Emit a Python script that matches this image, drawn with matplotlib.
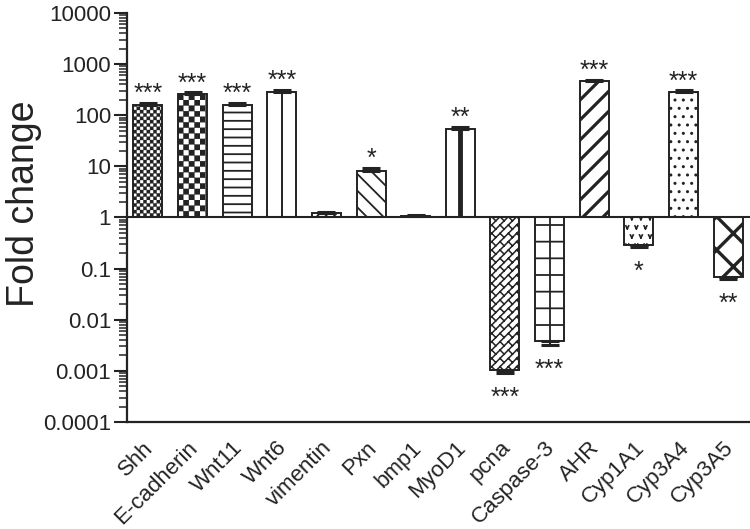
import warnings

import numpy as np
import matplotlib

matplotlib.use("Agg")
import matplotlib.pyplot as plt  # noqa: E402
from matplotlib import hatch as mhatch  # noqa: E402
from matplotlib.path import Path  # noqa: E402
from matplotlib.ticker import FixedLocator, LogLocator, NullFormatter  # noqa: E402
from matplotlib.transforms import ScaledTranslation  # noqa: E402

warnings.filterwarnings("ignore", message="hatch must consist")

GENES = ["Shh", "E-cadherin", "Wnt11", "Wnt6", "vimentin", "Pxn", "bmp1", "MyoD1",
         "pcna", "Caspase-3", "AHR", "Cyp1A1", "Cyp3A4", "Cyp3A5"]
FOLD = [160, 260, 160, 285, 1.2, 8.3, 1.07, 54, 0.00105, 0.0038, 470, 0.29, 285, 0.068]
ERR = [12, 20, 12, 25, 0.08, 0.9, 0.06, 6, 0.00015, 0.0006, 30, 0.03, 20, 0.006]
SIG = ["***", "***", "***", "***", "", "*", "", "**", "***", "***", "***", "*", "***", "**"]
YTICKS = [1e4, 1e3, 1e2, 1e1, 1, 0.1, 0.01, 0.001, 0.0001]
YTICKLABELS = ["10000", "1000", "100", "10", "1", "0.1", "0.01", "0.001", "0.0001"]

INK = "#232323"
MOVE, LINE, CLOSE = Path.MOVETO, Path.LINETO, Path.CLOSEPOLY


# --- custom fill textures (GraphPad-like), registered as extra hatch characters ---
def _segments(segs):
    v = np.asarray(segs, float).reshape(-1, 2)
    c = np.tile([MOVE, LINE], len(v) // 2)
    return v, c


def _checker(n):
    s = 1.0 / n
    verts, codes = [], []
    for i in range(n):
        for j in range(n):
            if (i + j) % 2 == 0:
                x, y = i * s, j * s
                verts += [(x, y), (x + s, y), (x + s, y + s), (x, y + s), (x, y)]
                codes += [MOVE, LINE, LINE, LINE, CLOSE]
    return np.array(verts), np.array(codes)


def _pq(p, q):
    return ((q + p) / 2, (q - p) / 2)


def _diag(n):
    return _segments([(_pq(k / n, 0), _pq(k / n, 2)) for k in range(-n, n + 1)])


def _brick(n, m):
    segs = []
    for k in range(-n, n + 1):
        p, p2 = k / n, (k + 1) / n
        segs.append((_pq(p, 0), _pq(p, 2)))
        for j in range(2 * m + 1):
            q = j / m + (k % 2) * 0.5 / m
            segs.append((_pq(p, q), _pq(p2, q)))
    return _segments(segs)


def _vees(n, d=0.014):
    s = 1.0 / n
    segs = []
    for i in range(-1, n + 1):
        for j in range(-1, n + 1):
            x = i * s + (j % 2) * s / 2
            y = j * s
            segs.append(((x - d, y + d), (x, y - d)))
            segs.append(((x, y - d), (x + d, y + d)))
    return _segments(segs)


CUSTOM = {"k": _checker(30), "K": _checker(18), "b": _brick(12, 6),
          "v": _vees(11), "a": _diag(5)}


class CustomHatch(mhatch.HatchPatternBase):
    def __init__(self, hatch, density):
        self.parts = [CUSTOM[ch] for ch in hatch if ch in CUSTOM]
        self.num_vertices = sum(len(v) for v, _ in self.parts)

    def set_vertices_and_codes(self, vertices, codes):
        i = 0
        for v, c in self.parts:
            vertices[i:i + len(v)] = v
            codes[i:i + len(v)] = c
            i += len(v)


mhatch._hatch_types.append(CustomHatch)

# per-bar fill: (facecolor, hatch, hatch linewidth, centre line width)
STYLE = [("white", "k", 0.2, 0), ("white", "K", 0.2, 0), ("white", "--", 1.3, 0),
         ("white", None, 1.3, 1.4), ("white", "////", 1.3, 0), ("white", "\\\\", 1.3, 0),
         (INK, None, 1.3, 0), ("white", None, 1.3, 3.5), ("white", "b", 1.1, 0),
         ("white", "-", 1.3, 1.3), ("white", "a", 2.3, 0), ("white", "v", 1.2, 0),
         ("white", "..", 1.0, 0), ("white", "x", 2.4, 0)]

plt.rcParams["font.family"] = ["Liberation Sans", "DejaVu Sans"]

fig = plt.figure(figsize=(7.5, 5.29), dpi=100)
ax = fig.add_axes([0.1693, 0.2023, 0.8307, 0.7731])
ax.set_yscale("log")

x = np.arange(len(GENES))
fold = np.array(FOLD)
err = np.array(ERR)
bars = ax.bar(x, fold - 1, bottom=1, width=0.65, edgecolor=INK, linewidth=1.4, zorder=2)
for b, (fc, h, hlw, clw), xi, v in zip(bars, STYLE, x, fold):
    b.set_facecolor(fc)
    b.set_hatch(h)
    if hasattr(b, "set_hatch_linewidth"):
        b.set_hatch_linewidth(hlw)
    if clw:
        ax.vlines(xi, 1, v, color=INK, lw=clw, zorder=3)

up = fold >= 1
ax.errorbar(x, fold, yerr=[np.where(up, 0, err), np.where(up, err, 0)], fmt="none",
            ecolor=INK, elinewidth=1.5, capsize=6.5, capthick=2.2, zorder=4)

for xi, v, e, s in zip(x, fold, err, SIG):
    if not s:
        continue
    if v >= 1:
        ax.annotate(s, (xi, v + e), xytext=(0, 1.4), textcoords="offset points",
                    ha="center", va="baseline", fontsize=18, color=INK)
    else:
        ax.annotate(s, (xi, v - e), xytext=(0, -23), textcoords="offset points",
                    ha="center", va="baseline", fontsize=18, color=INK)

ax.axhline(1, color=INK, lw=1.5, zorder=5)
ax.set_xlim(-0.47, len(GENES) - 0.51)
ax.set_ylim(1e-4, 1e4)

ax.yaxis.set_major_locator(FixedLocator(YTICKS))
ax.set_yticklabels(YTICKLABELS)
ax.yaxis.set_minor_locator(LogLocator(base=10, subs=np.arange(2, 10), numticks=20))
ax.yaxis.set_minor_formatter(NullFormatter())
ax.tick_params(axis="y", which="major", length=9.5, width=1.5, colors=INK, labelsize=16, pad=2)
ax.tick_params(axis="y", which="minor", length=5.5, width=1.1, colors=INK)

ax.set_xticks(x)
ax.set_xticklabels(GENES, rotation=45, ha="right", va="top", rotation_mode="anchor",
                   fontsize=16, color=INK)
ax.tick_params(axis="x", length=0, pad=11)
shift = ScaledTranslation(-0.05, 0, fig.dpi_scale_trans)
for lbl in ax.get_xticklabels():
    lbl.set_transform(lbl.get_transform() + shift)

for side in ("top", "right"):
    ax.spines[side].set_visible(False)
for side in ("left", "bottom"):
    ax.spines[side].set_linewidth(1.6)
    ax.spines[side].set_color(INK)

ax.set_ylabel("Fold change", fontsize=27, color=INK)
ax.yaxis.set_label_coords(-0.136, 0.533)

fig.savefig("out.png", dpi=100)
